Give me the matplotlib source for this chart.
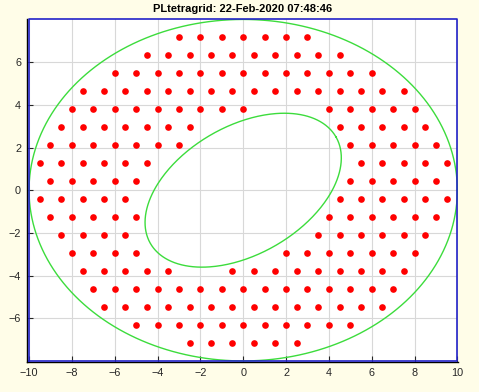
import numpy as np
import matplotlib
matplotlib.use("Agg")
import matplotlib.pyplot as plt

# ---- data ----
row_y = [7.17, 6.33, 5.49, 4.64, 3.80, 2.95, 2.11, 1.27, 0.42,
         -0.42, -1.27, -2.11, -2.95, -3.80, -4.64, -5.49, -6.33, -7.17]
row_x = [
    [-3, -2, -1, 0, 1, 2, 3],
    [-4.5, -3.5, -2.5, -1.5, -0.5, 0.5, 1.5, 2.5, 3.5, 4.5],
    [-6, -5, -4, -3, -2, -1, 0, 1, 2, 3, 4, 5, 6],
    [-7.5, -6.5, -5.5, -4.5, -3.5, -2.5, -1.5, -0.5, 0.5, 1.5, 2.5, 3.5, 4.5, 5.5, 6.5, 7.5],
    [-8, -7, -6, -5, -4, -3, -2, -1, 0, 4, 5, 6, 7, 8],
    [-8.5, -7.5, -6.5, -5.5, -4.5, -3.5, -2.5, 4.5, 5.5, 6.5, 7.5, 8.5],
    [-9, -8, -7, -6, -5, -4, -3, 5, 6, 7, 8, 9],
    [-9.5, -8.5, -7.5, -6.5, -5.5, -4.5, 5.5, 6.5, 7.5, 8.5, 9.5],
    [-9, -8, -7, -6, -5, 5, 6, 7, 8, 9],
    [-9.5, -8.5, -7.5, -6.5, -5.5, 4.5, 5.5, 6.5, 7.5, 8.5, 9.5],
    [-9, -8, -7, -6, -5, 4, 5, 6, 7, 8, 9],
    [-8.5, -7.5, -6.5, -5.5, 3.5, 4.5, 5.5, 6.5, 7.5, 8.5],
    [-8, -7, -6, -5, 2, 3, 4, 5, 6, 7, 8],
    [-7.5, -6.5, -5.5, -4.5, -3.5, -0.5, 0.5, 1.5, 2.5, 3.5, 4.5, 5.5, 6.5, 7.5],
    [-7, -6, -5, -4, -3, -2, -1, 0, 1, 2, 3, 4, 5, 6, 7],
    [-6.5, -5.5, -4.5, -3.5, -2.5, -1.5, -0.5, 0.5, 1.5, 2.5, 3.5, 4.5, 5.5, 6.5],
    [-5, -4, -3, -2, -1, 0, 1, 2, 3, 4, 5],
    [-2.5, -1.5, -0.5, 0.5, 1.5, 2.5],
]
outer_rx, outer_ry = 10, 8
inner_a, inner_b, inner_angle_deg = 5, 3, 30
box_x = [-10, 10, 10, -10, -10]
box_y = [-8, -8, 8, 8, -8]
xticks = [-10, -8, -6, -4, -2, 0, 2, 4, 6, 8, 10]
yticks = [-6, -4, -2, 0, 2, 4, 6]
title = "PLtetragrid: 22-Feb-2020 07:48:46"

plt.rcParams['font.family'] = ['Liberation Sans', 'DejaVu Sans']

fig = plt.figure(figsize=(4.79, 3.92), dpi=100)
bg = '#FFFDE8'
fig.patch.set_facecolor(bg)
ax = fig.add_axes([0.0557, 0.0765, 0.9004, 0.875])
ax.set_facecolor('white')

# grid
ax.set_xticks(xticks)
ax.set_yticks(yticks)
ax.grid(True, color='#d8d8d8', linewidth=0.8)
ax.set_axisbelow(True)

t = np.linspace(0, 2 * np.pi, 400)
ax.plot(outer_rx * np.cos(t), outer_ry * np.sin(t), color='#3cdc3c', lw=1.0, zorder=3)
th = np.deg2rad(inner_angle_deg)
ex = inner_a * np.cos(t)
ey = inner_b * np.sin(t)
ax.plot(ex * np.cos(th) - ey * np.sin(th), ex * np.sin(th) + ey * np.cos(th),
        color='#3cdc3c', lw=1.0, zorder=3)

ax.plot(box_x, box_y, color='#2323c8', lw=1.2, zorder=4, clip_on=False)

for y, xs in zip(row_y, row_x):
    ax.plot(xs, [y] * len(xs), linestyle='none', marker='o', markersize=4.8,
            color='#ff0000', markeredgewidth=0, zorder=5)

ax.set_xlim(-10.11, 10.03)
ax.set_ylim(-8.05, 8.02)

for s in ['top', 'right']:
    ax.spines[s].set_visible(False)
for s in ['left', 'bottom']:
    ax.spines[s].set_color('black')
    ax.spines[s].set_linewidth(1.0)

ax.tick_params(direction='in', length=4, width=0.8, labelsize=7.8,
               colors='#262626', pad=4)

ax.set_title(title, fontsize=8, fontweight='bold', pad=5)

fig.savefig('out.png', dpi=100, facecolor=bg)
